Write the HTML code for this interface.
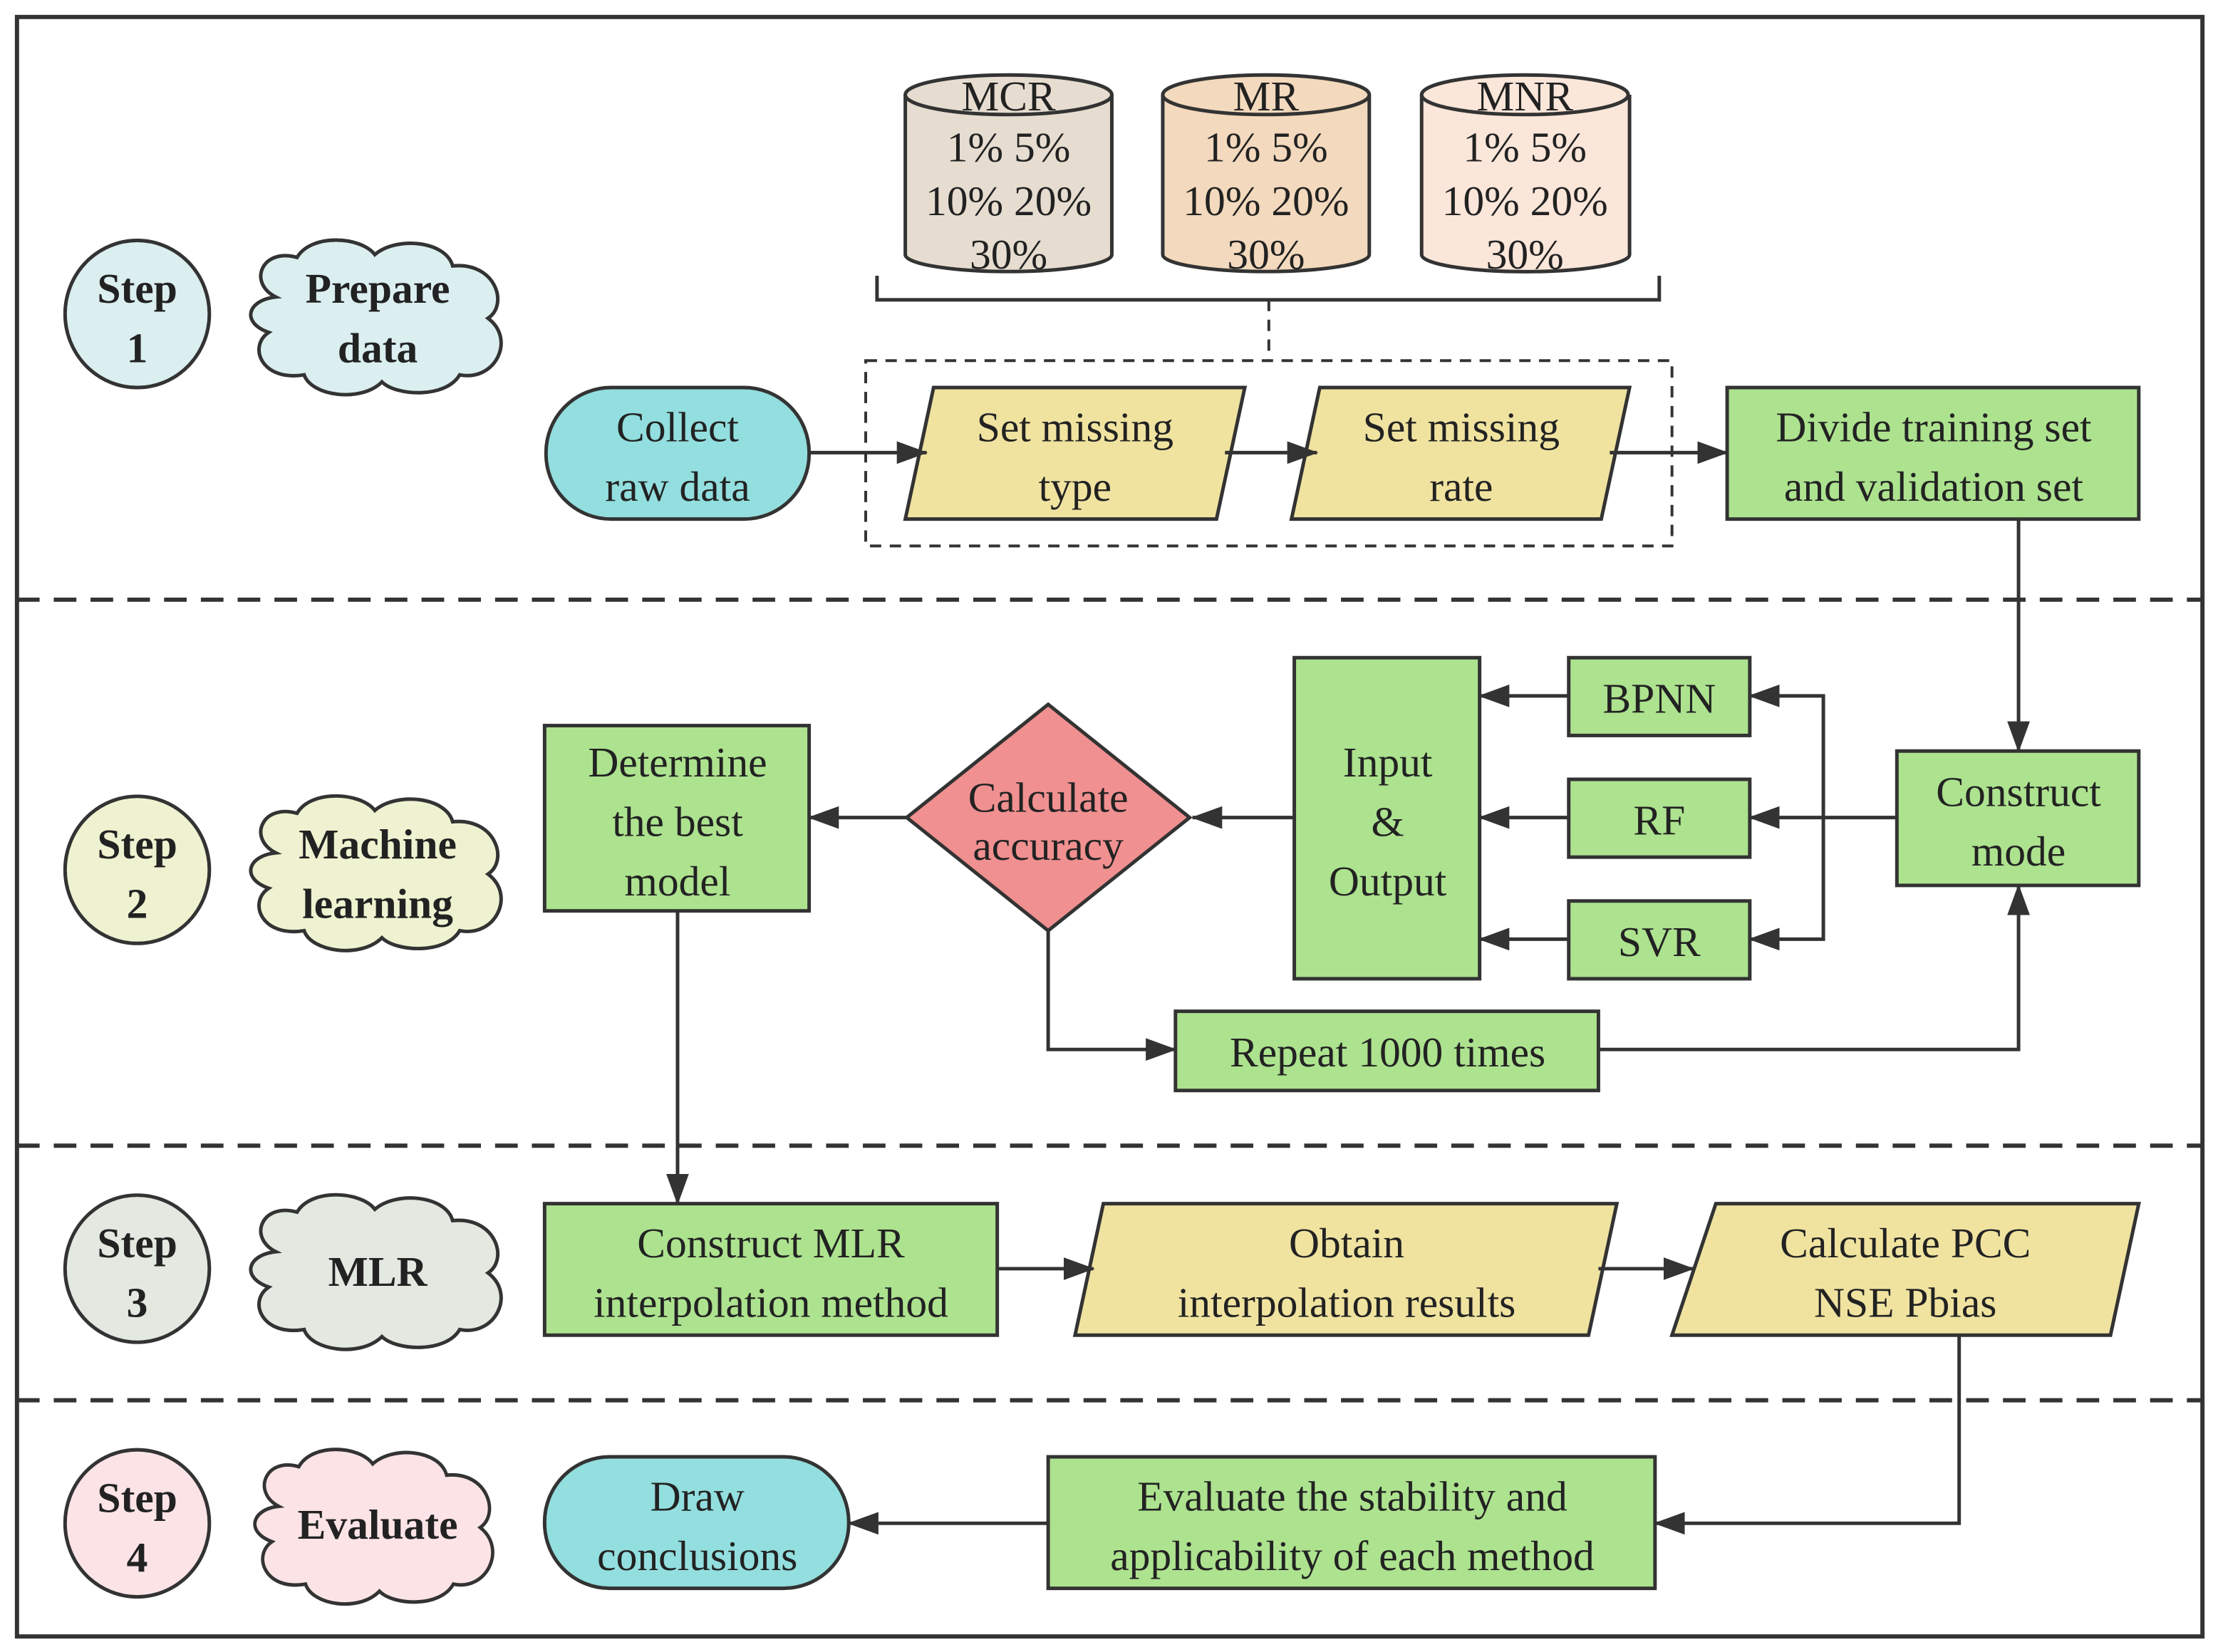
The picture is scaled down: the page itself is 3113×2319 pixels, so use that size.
<!DOCTYPE html>
<html><head><meta charset="utf-8"><style>
html,body{margin:0;padding:0;background:#fff;}
svg{display:block;}
text{font-family:"Liberation Serif",serif;font-size:30px;fill:#222;text-anchor:middle;}
.b{font-weight:bold;}
</style></head><body>
<svg width="3113" height="2319" viewBox="0 0 1568 1168" preserveAspectRatio="none" xmlns="http://www.w3.org/2000/svg">
<defs>
<marker id="a" markerWidth="10" markerHeight="10" refX="9" refY="5" orient="auto" markerUnits="userSpaceOnUse" viewBox="0 0 10 10"><path d="M0,0 L10,5 L0,10 z" fill="#333"/></marker>
<marker id="ab" markerWidth="22" markerHeight="16" refX="21" refY="8" orient="auto" markerUnits="userSpaceOnUse" viewBox="0 0 22 16"><path d="M0,0 L22,8 L0,16 z" fill="#333"/></marker>
<path id="cloud" d="M20,40 C0,30 10,5 35,12 C45,-5 80,-3 90,10 C105,-3 140,0 145,18 C175,15 185,45 170,55 C190,70 175,100 150,95 C140,112 105,110 95,100 C80,115 45,110 40,95 C10,100 0,75 15,65 C-5,58 0,42 20,40 z"/>
</defs>
<rect x="12" y="12" width="1545" height="1145" fill="none" stroke="#333" stroke-width="3"/>
<g stroke="#333" stroke-width="3" stroke-dasharray="16,10">
<line x1="12" y1="424" x2="1557" y2="424"/><line x1="12" y1="810" x2="1557" y2="810"/><line x1="12" y1="990" x2="1557" y2="990"/>
</g>
<!-- steps -->
<g stroke="#333" stroke-width="2.5">
<ellipse cx="97" cy="222" rx="51" ry="52" fill="#dbeef0"/>
<ellipse cx="97" cy="615" rx="51" ry="52" fill="#eef2d0"/>
<ellipse cx="97" cy="897" rx="51" ry="52" fill="#e3e8e0"/>
<ellipse cx="97" cy="1077" rx="51" ry="52" fill="#fbe3e6"/>
<use href="#cloud" transform="translate(175,170)" fill="#dbeef0"/>
<use href="#cloud" transform="translate(175,563)" fill="#eef2d0"/>
<use href="#cloud" transform="translate(175,845)" fill="#e3e8e0"/>
<use href="#cloud" transform="translate(178,1025) scale(0.95,1)" fill="#fbe3e6"/>
</g>
<text class="b" x="97" y="214">Step</text><text class="b" x="97" y="256">1</text>
<text class="b" x="97" y="607">Step</text><text class="b" x="97" y="649">2</text>
<text class="b" x="97" y="889">Step</text><text class="b" x="97" y="931">3</text>
<text class="b" x="97" y="1069">Step</text><text class="b" x="97" y="1111">4</text>
<text class="b" x="267" y="214">Prepare</text><text class="b" x="267" y="256">data</text>
<text class="b" x="267" y="607">Machine</text><text class="b" x="267" y="649">learning</text>
<text class="b" x="267" y="909">MLR</text>
<text class="b" x="267" y="1088">Evaluate</text>
<!-- cylinders -->
<g stroke="#333" stroke-width="2.5">
<path d="M640,67 V180 A73,12 0 0 0 786,180 V67" fill="#e6ddd0"/><ellipse cx="713" cy="67" rx="73" ry="14" fill="#e6ddd0"/>
<path d="M822,67 V180 A73,12 0 0 0 968,180 V67" fill="#f3d9bd"/><ellipse cx="895" cy="67" rx="73" ry="14" fill="#f3d9bd"/>
<path d="M1005,67 V180 A73,12 0 0 0 1152,180 V67" fill="#fbe6da"/><ellipse cx="1078" cy="67" rx="73" ry="14" fill="#fbe6da"/>
</g>
<text x="713" y="78">MCR</text><text x="713" y="114">1% 5%</text><text x="713" y="152">10% 20%</text><text x="713" y="190">30%</text>
<text x="895" y="78">MR</text><text x="895" y="114">1% 5%</text><text x="895" y="152">10% 20%</text><text x="895" y="190">30%</text>
<text x="1078" y="78">MNR</text><text x="1078" y="114">1% 5%</text><text x="1078" y="152">10% 20%</text><text x="1078" y="190">30%</text>
<path d="M620,195 V212 H1173 V195" fill="none" stroke="#333" stroke-width="2.5"/>
<line x1="897" y1="212" x2="897" y2="255" stroke="#333" stroke-width="2" stroke-dasharray="8,6"/>
<rect x="612" y="255" width="570" height="131" fill="none" stroke="#333" stroke-width="2" stroke-dasharray="8,6"/>
<!-- shapes -->
<g stroke="#333" stroke-width="2.5">
<rect x="386" y="274" width="186" height="93" rx="46" fill="#93dede"/>
<polygon points="660,274 880,274 860,367 640,367" fill="#f0e3a0"/>
<polygon points="933,274 1152,274 1132,367 913,367" fill="#f0e3a0"/>
<rect x="1221" y="274" width="291" height="93" fill="#ade28f"/>
<rect x="1341" y="531" width="171" height="95" fill="#ade28f"/>
<rect x="1109" y="465" width="128" height="55" fill="#ade28f"/>
<rect x="1109" y="551" width="128" height="55" fill="#ade28f"/>
<rect x="1109" y="637" width="128" height="55" fill="#ade28f"/>
<rect x="915" y="465" width="131" height="227" fill="#ade28f"/>
<polygon points="741,498 841,578 741,658 641,578" fill="#f09090"/>
<rect x="385" y="513" width="187" height="131" fill="#ade28f"/>
<rect x="831" y="715" width="299" height="56" fill="#ade28f"/>
<rect x="385" y="851" width="320" height="93" fill="#ade28f"/>
<polygon points="780,851 1143,851 1123,944 760,944" fill="#f0e3a0"/>
<polygon points="1213,851 1512,851 1492,944 1182,944" fill="#f0e3a0"/>
<rect x="741" y="1030" width="429" height="93" fill="#ade28f"/>
<rect x="385" y="1030" width="215" height="93" rx="46" fill="#93dede"/>
</g>
<text x="479" y="312">Collect</text><text x="479" y="354">raw data</text>
<text x="760" y="312">Set missing</text><text x="760" y="354">type</text>
<text x="1033" y="312">Set missing</text><text x="1033" y="354">rate</text>
<text x="1367" y="312">Divide training set</text><text x="1367" y="354">and validation set</text>
<text x="1427" y="570">Construct</text><text x="1427" y="612">mode</text>
<text x="1173" y="504">BPNN</text><text x="1173" y="590">RF</text><text x="1173" y="676">SVR</text>
<text x="981" y="549">Input</text><text x="981" y="591">&amp;</text><text x="981" y="633">Output</text>
<text x="741" y="574">Calculate</text><text x="741" y="608">accuracy</text>
<text x="479" y="549">Determine</text><text x="479" y="591">the best</text><text x="479" y="633">model</text>
<text x="981" y="754">Repeat 1000 times</text>
<text x="545" y="889">Construct MLR</text><text x="545" y="931">interpolation method</text>
<text x="952" y="889">Obtain</text><text x="952" y="931">interpolation results</text>
<text x="1347" y="889">Calculate  PCC</text><text x="1347" y="931">NSE  Pbias</text>
<text x="956" y="1068">Evaluate the stability and</text><text x="956" y="1110">applicability of each method</text>
<text x="493" y="1068">Draw</text><text x="493" y="1110">conclusions</text>
<!-- connectors -->
<g stroke="#333" stroke-width="2.5" fill="none" marker-end="url(#ab)">
<line x1="572" y1="320" x2="655" y2="320"/>
<line x1="866" y1="320" x2="931" y2="320"/>
<line x1="1138" y1="320" x2="1221" y2="320"/>
<line x1="1427" y1="367" x2="1427" y2="531"/>
<line x1="1341" y1="578" x2="1237" y2="578"/>
<polyline points="1289,578 1289,492 1237,492"/>
<polyline points="1289,578 1289,664 1237,664"/>
<line x1="1109" y1="492" x2="1046" y2="492"/>
<line x1="1109" y1="578" x2="1046" y2="578"/>
<line x1="1109" y1="664" x2="1046" y2="664"/>
<line x1="915" y1="578" x2="843" y2="578"/>
<line x1="641" y1="578" x2="572" y2="578"/>
<polyline points="741,658 741,742 831,742"/>
<polyline points="1130,742 1427,742 1427,626"/>
<line x1="479" y1="644" x2="479" y2="851"/>
<line x1="705" y1="897" x2="773" y2="897"/>
<line x1="1130" y1="897" x2="1197" y2="897"/>
<polyline points="1385,944 1385,1077 1170,1077"/>
<line x1="741" y1="1077" x2="600" y2="1077"/>
</g>
</svg>
</body></html>
